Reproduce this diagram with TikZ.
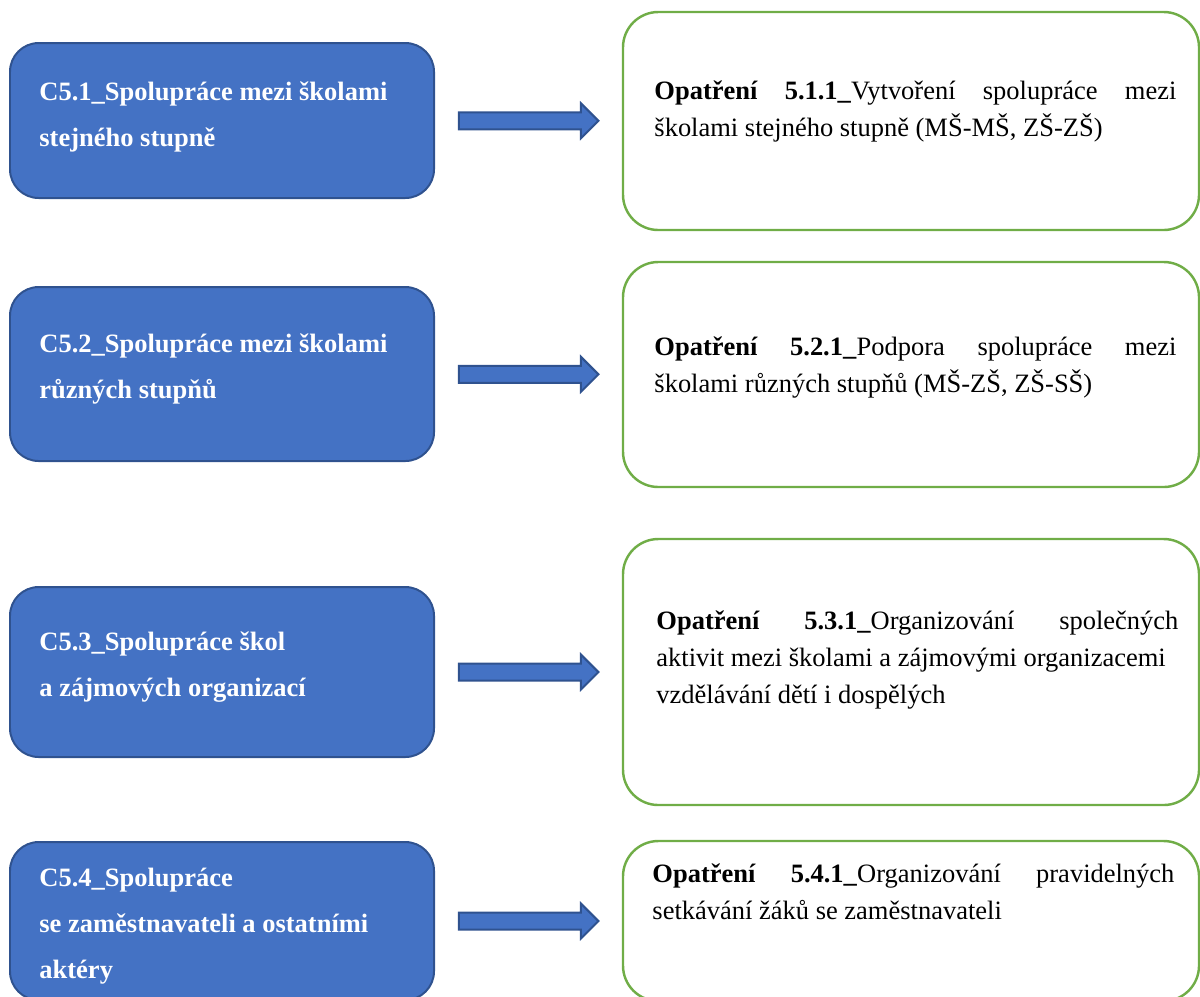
\documentclass[tikz,border=0pt]{standalone}
\usepackage{fontspec}
\setmainfont{Liberation Serif}
\usetikzlibrary{calc}

\definecolor{boxblue}{HTML}{4472C4}
\definecolor{edgeblue}{HTML}{2F528F}
\definecolor{boxgreen}{HTML}{70AD47}
\newdimen\pxu \pxu=0.453pt

\tikzset{
    goal/.style={draw=edgeblue, fill=boxblue, line width=0.9pt, rounded corners=13pt,
        minimum width=424\pxu, inner sep=0pt},
    measure/.style={draw=boxgreen, line width=1.1pt, rounded corners=16pt,
        minimum width=576\pxu, inner sep=0pt},
    goaltext/.style={anchor=north west, inner sep=0pt, text=white, align=left,
        font=\bfseries\fontsize{12}{20.8}\selectfont},
    measuretext/.style={anchor=north west, inner sep=0pt, text width=522\pxu, align=justify,
        font=\fontsize{12}{16.8}\selectfont},
    blockarrow/.style={draw=edgeblue, fill=boxblue, line width=0.9pt, line join=miter}
}

\begin{document}
\begin{tikzpicture}[x=0.453pt,y=-0.453pt]
    \useasboundingbox (0,0) rectangle (1200,996);
    \node[goal, minimum height=155\pxu] (c1) at (222,120.5) {};
    \node[goal, minimum height=174\pxu] (c2) at (222,374) {};
    \node[goal, minimum height=170\pxu] (c3) at (222,672) {};
    \node[goal, minimum height=158\pxu] (c4) at (222,921) {};
    \node[measure, minimum height=218\pxu] (o1) at (911,121) {};
    \node[measure, minimum height=225\pxu] (o2) at (911,374.5) {};
    \node[measure, minimum height=266\pxu] (o3) at (911,672) {};
    \node[measure, minimum height=160\pxu] (o4) at (911,921) {};
    \foreach \i in {1,...,4} {
        \coordinate (a\i) at ($(c\i.east)!0.5!(o\i.west)$);
        \draw[blockarrow] ($(a\i)+(-69.5,-8.5)$) -- ++(122,0) -- ++(0,-9) -- ++(17.5,17.5)
            -- ++(-17.5,17.5) -- ++(0,-9) -- ++(-122,0) -- cycle;
    }
    \node[goaltext] (ct1) at (39,81) {C5.1\_Spolupráce mezi školami\\stejného stupně};
    \node[goaltext] (ct2) at (39,333) {C5.2\_Spolupráce mezi školami\\různých stupňů};
    \node[goaltext] (ct3) at (39,631) {C5.3\_Spolupráce škol\\a zájmových organizací};
    \node[goaltext] (ct4) at (39,868) {C5.4\_Spolupráce\\se zaměstnavateli a ostatními\\aktéry};
    \node[measuretext] (ot1) at (654,80) {\textbf{Opatření 5.1.1\_}Vytvoření spolupráce mezi
        \linebreak školami stejného stupně (MŠ-MŠ, ZŠ-ZŠ)};
    \node[measuretext] (ot2) at (654,336) {\textbf{Opatření 5.2.1\_}Podpora spolupráce mezi
        \linebreak školami různých stupňů (MŠ-ZŠ, ZŠ-SŠ)};
    \node[measuretext] (ot3) at (656,610) {\textbf{Opatření 5.3.1\_}Organizování společných
        \linebreak \mbox{aktivit mezi školami a zájmovými organizacemi}\\vzdělávání dětí i dospělých};
    \node[measuretext] (ot4) at (652,863) {\textbf{Opatření 5.4.1\_}Organizování pravidelných
        \linebreak setkávání žáků se zaměstnavateli};
\end{tikzpicture}
\end{document}
